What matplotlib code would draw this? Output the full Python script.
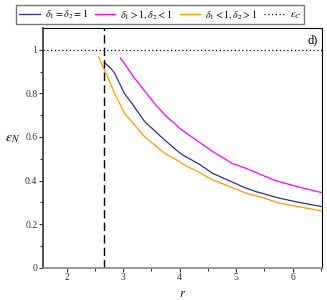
import matplotlib.pyplot as plt
import numpy as np

plt.rcParams['font.family'] = ['Liberation Serif', 'DejaVu Serif']
plt.rcParams['mathtext.fontset'] = 'stix'

# values
r_blue = [2.665, 2.776, 2.847, 3.02, 3.16, 3.376, 3.73, 3.993, 4.08, 4.35,
          4.58, 5.17, 5.35, 5.757, 6.12, 6.52]
e_blue = [0.942, 0.916, 0.893, 0.800, 0.752, 0.672, 0.587, 0.529, 0.514, 0.475,
          0.434, 0.366, 0.350, 0.320, 0.300, 0.281]

r_mag = [2.952, 3.2, 3.55, 3.76, 3.905, 3.993, 4.08, 4.58, 4.94, 5.17, 5.64,
         5.757, 6.12, 6.52]
e_mag = [0.962, 0.870, 0.755, 0.695, 0.664, 0.641, 0.625, 0.534, 0.478, 0.457,
         0.406, 0.396, 0.370, 0.345]

r_orn = [2.564, 2.67, 2.847, 3.02, 3.376, 3.73, 3.993, 4.08, 4.35, 4.58, 5.17,
         5.53, 5.757, 6.12, 6.52]
e_orn = [0.966, 0.908, 0.801, 0.710, 0.602, 0.526, 0.488, 0.472, 0.438, 0.404,
         0.343, 0.318, 0.297, 0.280, 0.261]

r_c = 2.665  # vertical dashed line
eps_c = 1.0

fig = plt.figure(figsize=(3.27, 3.0), dpi=100)
ax = fig.add_axes([0.1315, 0.107, 0.853, 0.80])

l1, = ax.plot(r_blue, e_blue, color='#2f2f8f', lw=0.9)
l2, = ax.plot(r_mag, e_mag, color='#ff00ff', lw=0.9)
l3, = ax.plot(r_orn, e_orn, color='#ff9900', lw=0.9)
l4 = ax.axhline(eps_c, color='black', ls=(0, (1, 2)), lw=0.9)
ax.axvline(r_c, color='black', ls=(0, (6, 3)), lw=1.0)

ax.set_xlim(1.58, 6.52)
ax.set_ylim(0, 1.10)
ax.set_xticks([2, 3, 4, 5, 6])
ax.set_xticks([2.5, 3.5, 4.5, 5.5, 6.5], minor=True)
ax.set_yticks([0, 0.2, 0.4, 0.6, 0.8, 1])
ax.set_yticklabels(['0', '0.2', '0.4', '0.6', '0.8', '1'])
ax.set_yticks([0.1, 0.3, 0.5, 0.7, 0.9], minor=True)
ax.tick_params(labelsize=7, length=3, width=0.8, colors='#333333', pad=1)
ax.tick_params(which='minor', length=2, width=0.8, colors='#333333')

for s in ['left', 'bottom']:
    ax.spines[s].set_color('#888888')
    ax.spines[s].set_linewidth(1.2)
ax.spines['left'].set_color('#333333')
for s in ['top', 'right']:
    ax.spines[s].set_linewidth(0.8)

ax.set_xlabel('$r$', fontsize=9, labelpad=4)
ax.set_ylabel(r'$\varepsilon_N$', fontsize=10, rotation=0, labelpad=10)
ax.yaxis.set_label_coords(-0.11, 0.51)
ax.text(0.985, 0.975, 'd)', transform=ax.transAxes, ha='right', va='top', fontsize=9)

fig.legend([l1, l2, l3, l4],
           [r'$\delta_1 = \delta_2 = 1$', r'$\delta_1 > 1, \delta_2 < 1$',
            r'$\delta_1 < 1, \delta_2 > 1$', r'$\varepsilon_C$'],
           loc='center', bbox_to_anchor=(0.49, 0.951), ncol=4, fontsize=7.3,
           frameon=True, fancybox=False, edgecolor='#555555', handlelength=2.0,
           handletextpad=0.5, columnspacing=0.7, borderpad=0.3, borderaxespad=0)

fig.savefig('out.png', dpi=100)
